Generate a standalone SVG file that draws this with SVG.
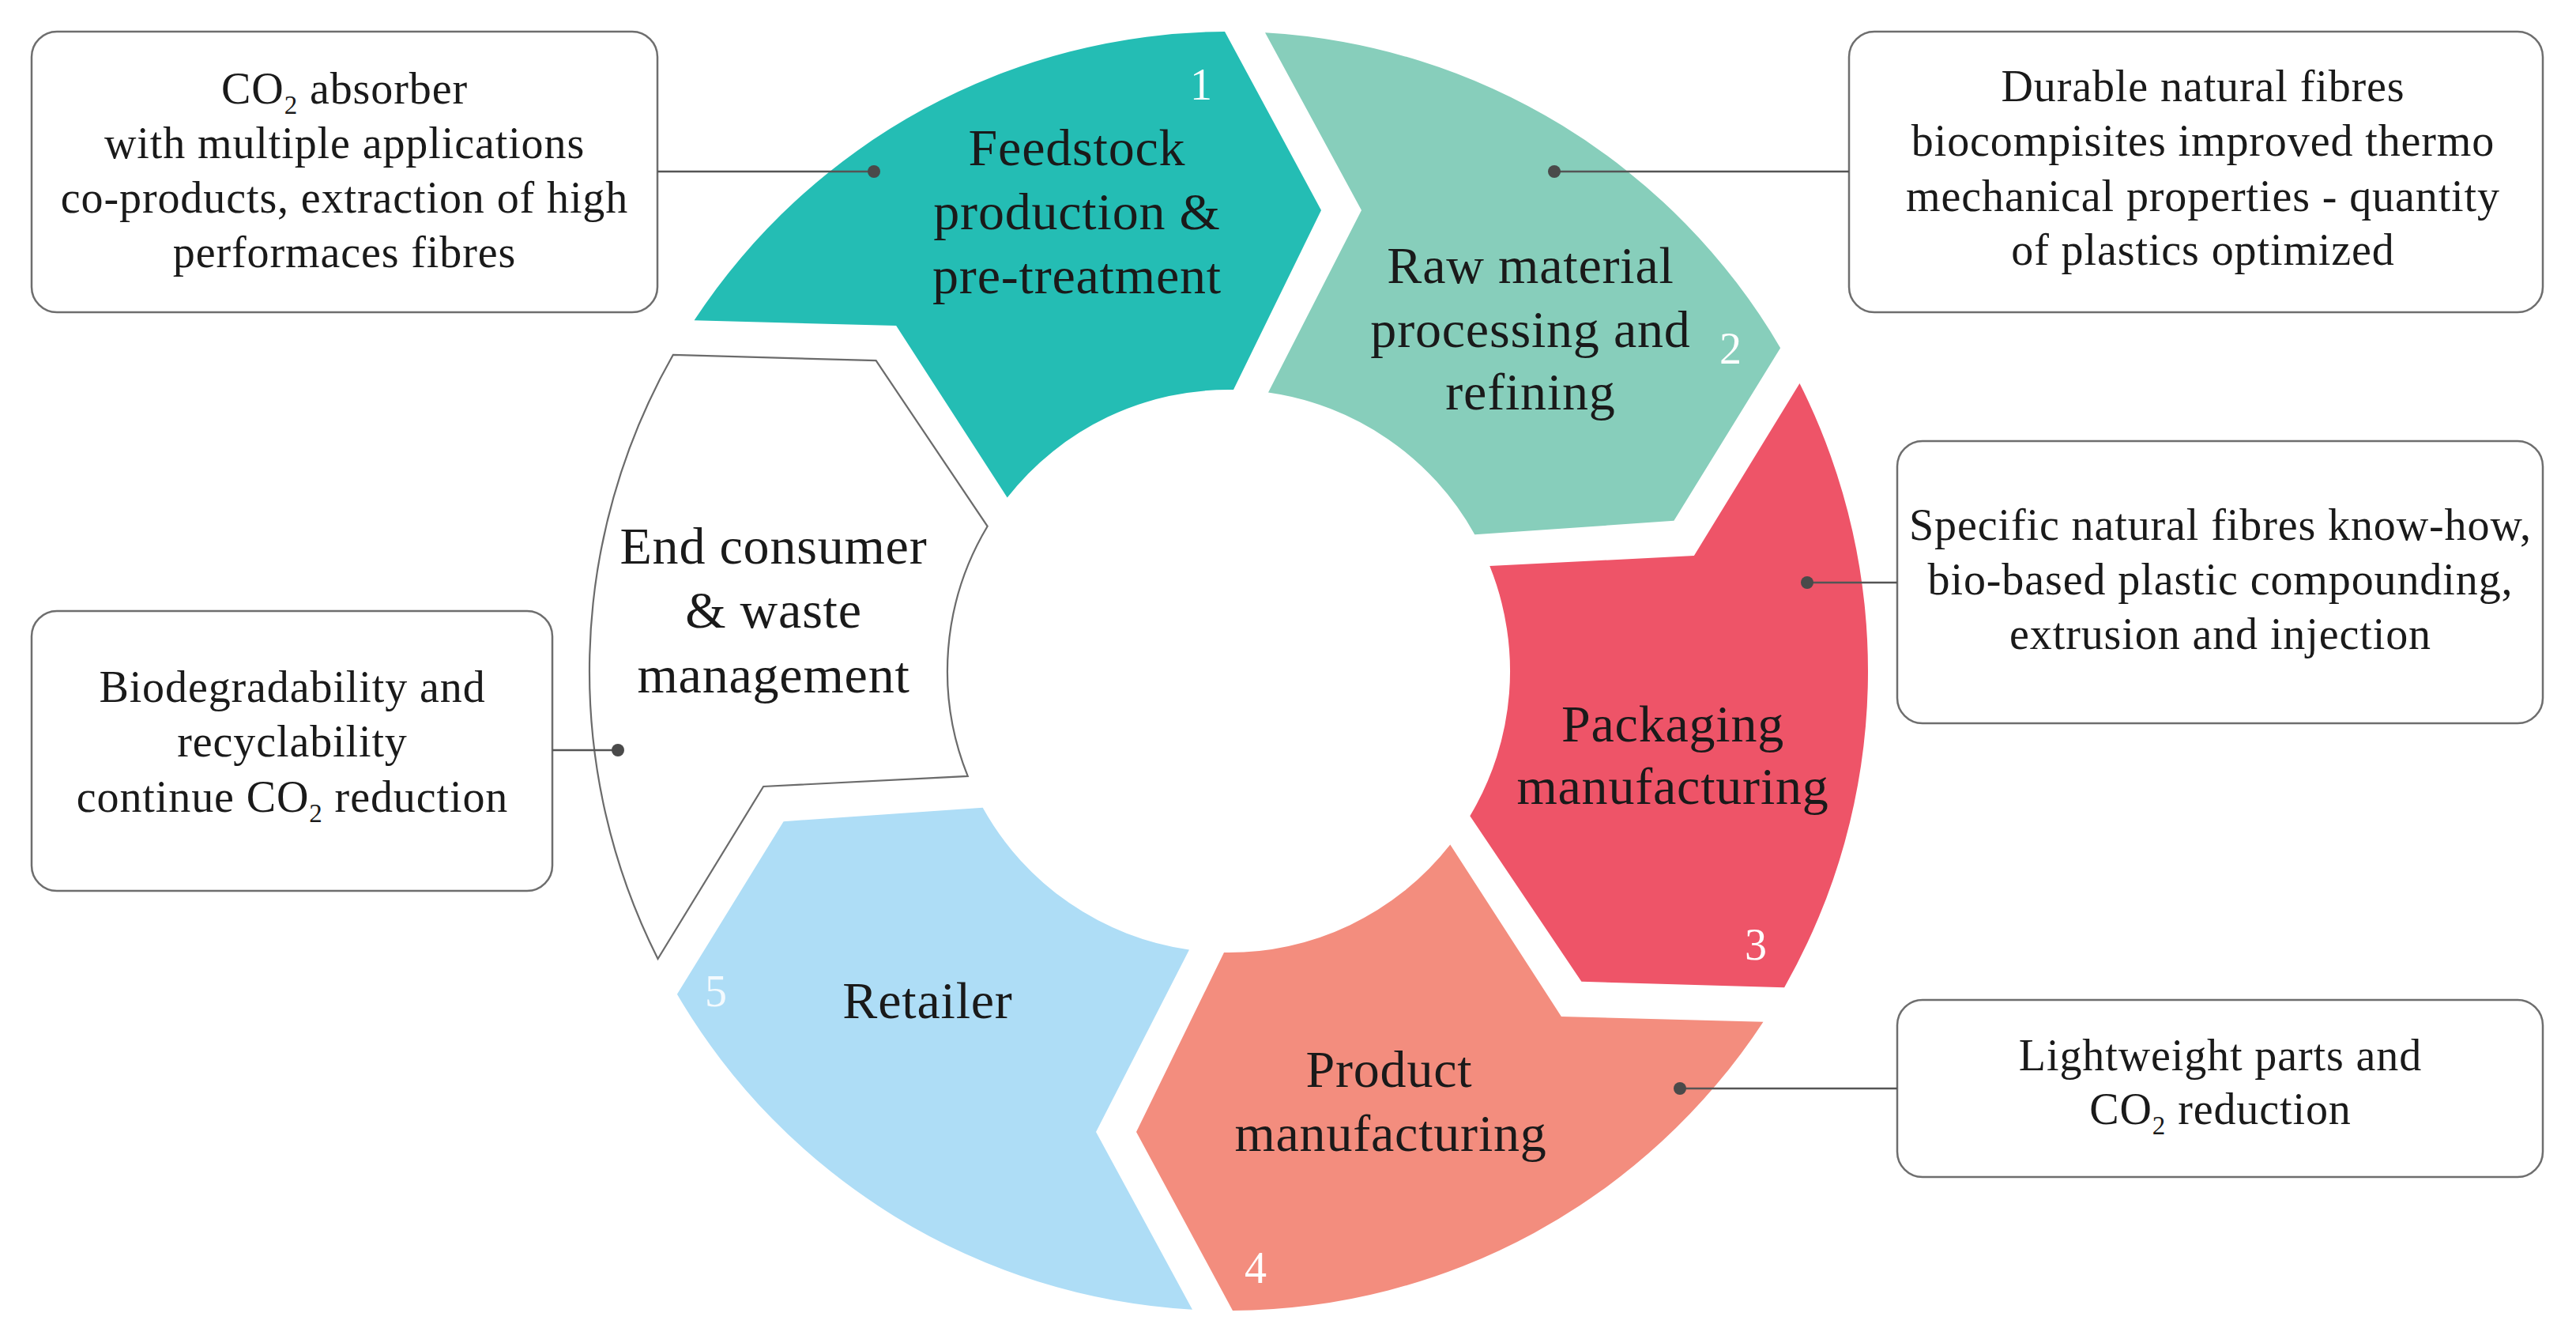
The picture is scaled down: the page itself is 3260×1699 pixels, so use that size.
<svg xmlns="http://www.w3.org/2000/svg" width="3260" height="1699" viewBox="0 0 3260 1699">
<style>
.seg-label{font-family:"Liberation Serif","Times New Roman",serif;font-size:66px;letter-spacing:0.8px;fill:#1a1a1a;text-anchor:middle}
.num{font-family:"Liberation Serif","Times New Roman",serif;font-size:56px;fill:#ffffff;text-anchor:middle}
.box{fill:#ffffff;stroke:#6e6e6e;stroke-width:2.5}
.box-text{font-family:"Liberation Serif","Times New Roman",serif;font-size:56px;letter-spacing:0.9px;fill:#1a1a1a;text-anchor:middle}
.conn{stroke:#555555;stroke-width:2.5;fill:none}
.dot{fill:#4a4a4a}
.sub{font-size:33px}
</style>
<defs>
<path id="seg" d="M 878.54 405.31 A 809 809 0 0 1 1550 40 L 1672 266 L 1561 493 A 356 356 0 0 0 1274.73 629.45 L 1134.12 412.01 Z"/>
</defs>
<rect width="3260" height="1699" fill="#ffffff"/>

<g id="feedstock">
<use href="#seg" fill="#24BDB4"/>
<text class="seg-label" x="1363" y="209">Feedstock</text>
<text class="seg-label" x="1363" y="290">production &amp;</text>
<text class="seg-label" x="1363" y="371">pre-treatment</text>
<text class="num" x="1520" y="126">1</text>
</g>

<g id="raw-material">
<use href="#seg" fill="#87CEBB" transform="rotate(60 1555 849)"/>
<text class="seg-label" x="1937" y="358">Raw material</text>
<text class="seg-label" x="1937" y="439">processing and</text>
<text class="seg-label" x="1937" y="518">refining</text>
<text class="num" x="2190" y="460">2</text>
</g>

<g id="packaging">
<use href="#seg" fill="#EE5468" transform="rotate(120 1555 849)"/>
<text class="seg-label" x="2117" y="938">Packaging</text>
<text class="seg-label" x="2117" y="1017">manufacturing</text>
<text class="num" x="2222" y="1214">3</text>
</g>

<g id="product">
<use href="#seg" fill="#F38D7E" transform="rotate(180 1555 849)"/>
<text class="seg-label" x="1758" y="1375">Product</text>
<text class="seg-label" x="1760" y="1456">manufacturing</text>
<text class="num" x="1589" y="1623">4</text>
</g>

<g id="retailer">
<use href="#seg" fill="#AEDDF6" transform="rotate(240 1555 849)"/>
<text class="seg-label" x="1174" y="1288">Retailer</text>
<text class="num" x="906" y="1273" fill-opacity="0.85">5</text>
</g>

<g id="end-consumer">
<use href="#seg" fill="#ffffff" stroke="#6b6b6b" stroke-width="2.2" transform="rotate(300 1555 849)"/>
<text class="seg-label" x="979" y="713">End consumer</text>
<text class="seg-label" x="979" y="794">&amp; waste</text>
<text class="seg-label" x="979" y="876">management</text>
</g>

<g id="box-co2-absorber">
<rect class="box" x="40" y="40" width="792" height="355" rx="32"/>
<text class="box-text" x="436" y="131">CO<tspan class="sub" dy="13">2</tspan><tspan dy="-13"> absorber</tspan></text>
<text class="box-text" x="436" y="200">with multiple applications</text>
<text class="box-text" x="436" y="269">co-products, extraction of high</text>
<text class="box-text" x="436" y="338">performaces fibres</text>
</g>

<g id="box-durable-fibres">
<rect class="box" x="2340" y="40" width="878" height="355" rx="32"/>
<text class="box-text" x="2788" y="128">Durable natural fibres</text>
<text class="box-text" x="2788" y="197">biocompisites improved thermo</text>
<text class="box-text" x="2788" y="267">mechanical properties - quantity</text>
<text class="box-text" x="2788" y="335">of plastics optimized</text>
</g>

<g id="box-know-how">
<rect class="box" x="2401" y="558" width="817" height="357" rx="32"/>
<text class="box-text" x="2810" y="683">Specific natural fibres know-how,</text>
<text class="box-text" x="2810" y="752">bio-based plastic compounding,</text>
<text class="box-text" x="2810" y="821">extrusion and injection</text>
</g>

<g id="box-lightweight">
<rect class="box" x="2401" y="1265" width="817" height="224" rx="32"/>
<text class="box-text" x="2810" y="1354">Lightweight parts and</text>
<text class="box-text" x="2810" y="1422">CO<tspan class="sub" dy="13">2</tspan><tspan dy="-13"> reduction</tspan></text>
</g>

<g id="box-biodegradability">
<rect class="box" x="40" y="773" width="659" height="354" rx="32"/>
<text class="box-text" x="370" y="888">Biodegradability and</text>
<text class="box-text" x="370" y="957">recyclability</text>
<text class="box-text" x="370" y="1027">continue CO<tspan class="sub" dy="13">2</tspan><tspan dy="-13"> reduction</tspan></text>
</g>

<g id="connectors">
<line class="conn" x1="832" y1="217" x2="1106" y2="217"/>
<circle class="dot" cx="1106" cy="217" r="8"/>
<line class="conn" x1="1967" y1="217" x2="2340" y2="217"/>
<circle class="dot" cx="1967" cy="217" r="8"/>
<line class="conn" x1="2287" y1="737" x2="2401" y2="737"/>
<circle class="dot" cx="2287" cy="737" r="8"/>
<line class="conn" x1="2126" y1="1377" x2="2401" y2="1377"/>
<circle class="dot" cx="2126" cy="1377" r="8"/>
<line class="conn" x1="699" y1="949" x2="782" y2="949"/>
<circle class="dot" cx="782" cy="949" r="8"/>
</g>
</svg>
